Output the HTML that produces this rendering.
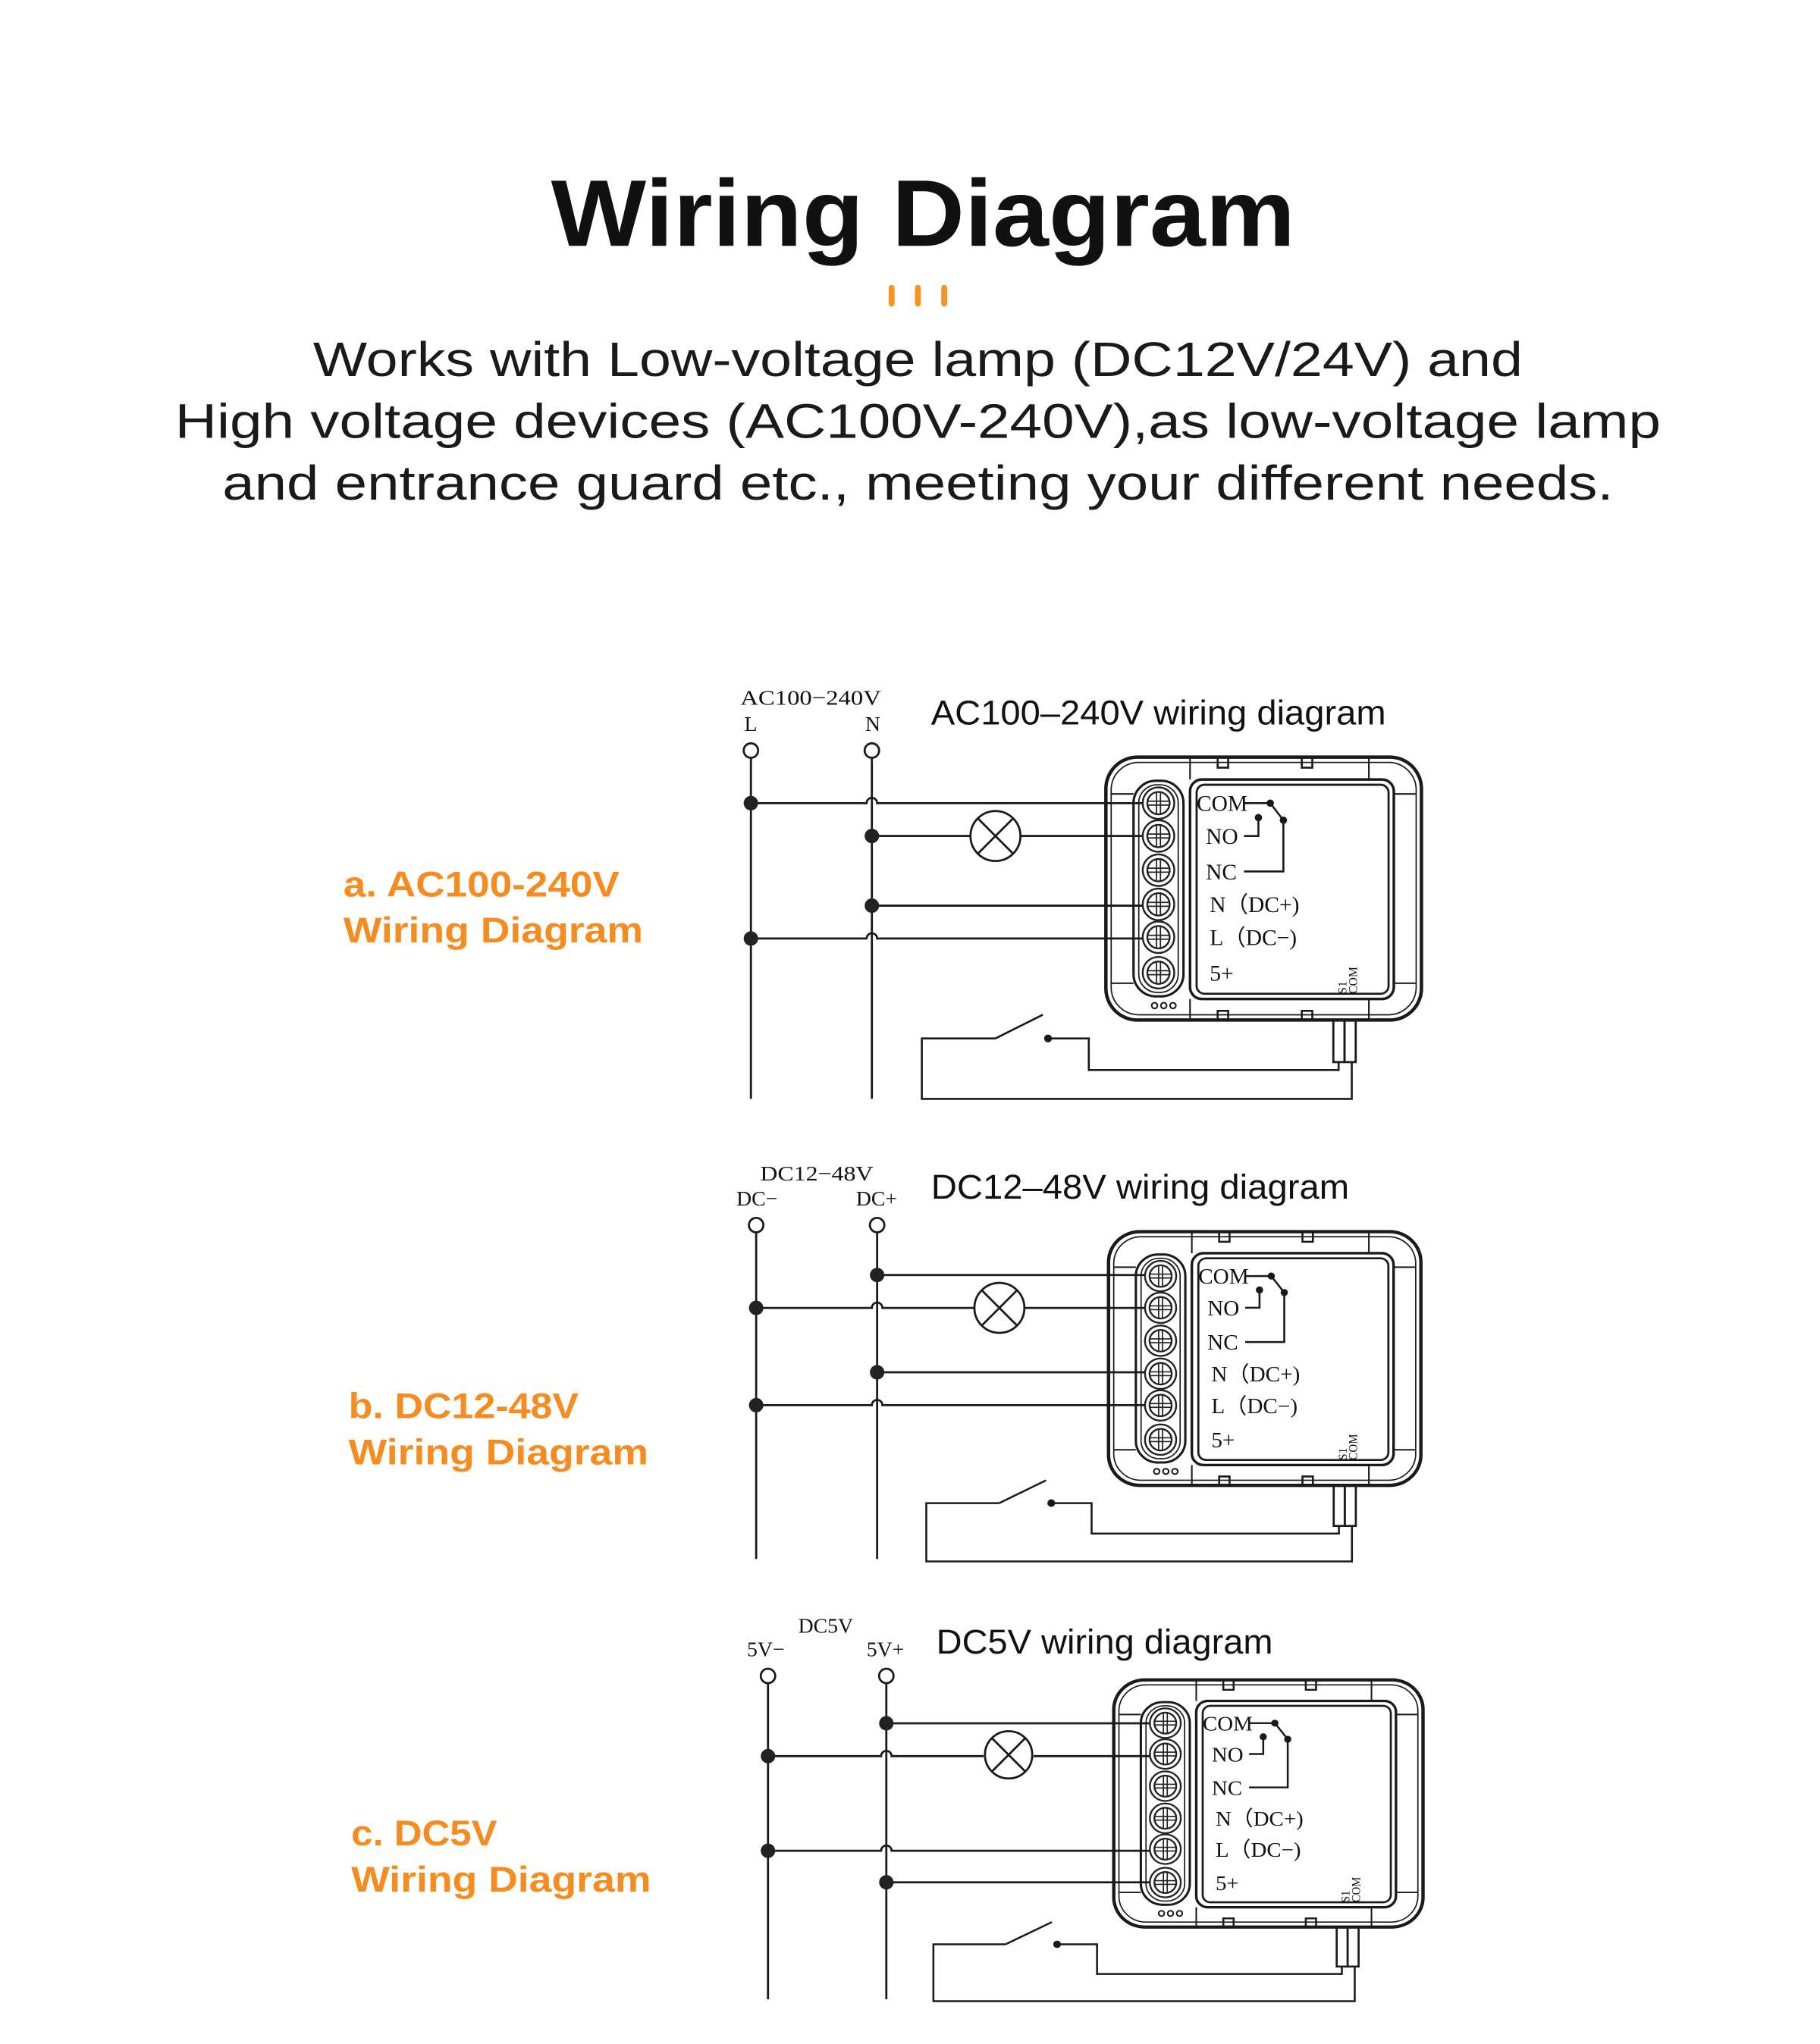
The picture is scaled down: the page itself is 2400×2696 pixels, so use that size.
<!DOCTYPE html>
<html><head><meta charset="utf-8"><style>
html,body{margin:0;padding:0;background:#fff;}
svg{display:block;}
</style></head><body>
<svg xmlns="http://www.w3.org/2000/svg" width="2400" height="2696" viewBox="0 0 1384 1555">
<defs>
<g id="screw">
<circle r="12" fill="#fff" stroke="#222" stroke-width="1.4"/>
<circle r="8.5" fill="none" stroke="#222" stroke-width="1.4"/>
<path d="M-8.5 -1.5H8.5M-8.5 1.5H8.5M-1.5 -8.5V8.5M1.5 -8.5V8.5" stroke="#222" stroke-width="1"/>
</g>
<g id="dev" fill="none" stroke="#1a1a1a" stroke-width="2">
<rect x="0" y="0" width="240" height="200" rx="24" stroke-width="2.6"/>
<rect x="4" y="4" width="232" height="192" rx="21" stroke-width="1"/>
<path d="M64 0V17M200 0V17M64 184V200M200 184V200M4 28H21M219 28H236M4 172H21M219 172H236" stroke-width="1.2"/>
<path d="M85 0V8H93V0M149 0V8H157V0M85 200V193H93V200M149 200V193H157V200" stroke-width="1.5"/>
<rect x="21" y="18" width="38" height="164" rx="17" stroke-width="1.8"/>
<rect x="25" y="21" width="30" height="158" rx="14" stroke-width="1"/>
<rect x="64" y="17" width="155" height="167" rx="9" stroke-width="2"/>
<rect x="69" y="21" width="146" height="159" rx="6" stroke-width="1.6"/>
<use href="#screw" x="40" y="35"/><use href="#screw" x="40" y="60"/><use href="#screw" x="40" y="86"/>
<use href="#screw" x="40" y="112"/><use href="#screw" x="40" y="137"/><use href="#screw" x="40" y="164"/>
<circle cx="37" cy="189" r="2.2" stroke-width="1.2"/><circle cx="44" cy="189" r="2.2" stroke-width="1.2"/><circle cx="51" cy="189" r="2.2" stroke-width="1.2"/>
<path d="M105 35H125L135 48M105 60H116V46M105 87H135V48" stroke-width="1.5"/>
<circle cx="125" cy="35" r="1.8" fill="#1a1a1a"/><circle cx="135" cy="48" r="1.8" fill="#1a1a1a"/><circle cx="116" cy="46" r="1.8" fill="#1a1a1a"/>
<rect x="173" y="200" width="8.5" height="32" stroke-width="1.6"/><rect x="181.5" y="200" width="8.5" height="32" stroke-width="1.6"/>
<path d="M177 232V238H-13V214H-44M-84 214L-48 196M-84 214H-140V260H187V232" stroke-width="1.5"/>
<circle cx="-44" cy="214" r="2" fill="#1a1a1a"/>
</g>
</defs>
<text x="702" y="187" text-anchor="middle" font-family="Liberation Sans, sans-serif" font-weight="bold" font-size="72" textLength="566" lengthAdjust="spacingAndGlyphs" fill="#111">Wiring Diagram</text>
<g stroke="#f7931e" stroke-width="4.5" stroke-linecap="round"><path d="M678 219V231M698 219V231M718 219V231"/></g>
<g font-family="Liberation Sans, sans-serif" font-size="37" fill="#1a1a1a" text-anchor="middle">
<text x="698" y="286" textLength="920" lengthAdjust="spacingAndGlyphs">Works with Low-voltage lamp (DC12V/24V) and</text>
<text x="698" y="333" textLength="1130" lengthAdjust="spacingAndGlyphs">High voltage devices (AC100V-240V),as low-voltage lamp</text>
<text x="698" y="380" textLength="1058" lengthAdjust="spacingAndGlyphs">and entrance guard etc., meeting your different needs.</text>
</g>
<g font-family="Liberation Sans, sans-serif" font-weight="bold" font-size="27" fill="#f68b1f">
<text x="261" y="682" textLength="210" lengthAdjust="spacingAndGlyphs">a. AC100-240V</text>
<text x="261" y="717" textLength="228" lengthAdjust="spacingAndGlyphs">Wiring Diagram</text>
<text x="265" y="1079" textLength="175" lengthAdjust="spacingAndGlyphs">b. DC12-48V</text>
<text x="265" y="1114" textLength="228" lengthAdjust="spacingAndGlyphs">Wiring Diagram</text>
<text x="267" y="1404" textLength="111" lengthAdjust="spacingAndGlyphs">c. DC5V</text>
<text x="267" y="1439" textLength="228" lengthAdjust="spacingAndGlyphs">Wiring Diagram</text>
</g>
<g font-family="Liberation Sans, sans-serif" font-size="26" fill="#111">
<text x="708" y="551" textLength="346" lengthAdjust="spacingAndGlyphs">AC100–240V wiring diagram</text>
<text x="708" y="912" textLength="318" lengthAdjust="spacingAndGlyphs">DC12–48V wiring diagram</text>
<text x="712" y="1258" textLength="256" lengthAdjust="spacingAndGlyphs">DC5V wiring diagram</text>
</g>
<g font-family="Liberation Serif, serif" font-size="16" fill="#111">
<text x="563" y="536" textLength="107" lengthAdjust="spacingAndGlyphs">AC100−240V</text>
<text x="566" y="556">L</text><text x="658" y="556">N</text>
<text x="578" y="898" textLength="86" lengthAdjust="spacingAndGlyphs">DC12−48V</text>
<text x="560" y="917">DC−</text><text x="651" y="917">DC+</text>
<text x="607" y="1242">DC5V</text>
<text x="568" y="1260">5V−</text><text x="659" y="1260">5V+</text>
</g>
<g fill="none" stroke="#1a1a1a" stroke-width="1.6">
<!-- A -->
<circle cx="571" cy="571" r="5.5" fill="#fff"/><circle cx="663" cy="571" r="5.5" fill="#fff"/>
<path d="M571 577V836M663 577V836"/>
<path d="M571 611H659a4 4 0 0 1 8 0H881"/>
<path d="M663 636H738M776 636H881"/>
<circle cx="757" cy="636" r="19"/><path d="M744 623L770 649M770 623L744 649"/>
<path d="M663 689H881"/>
<path d="M571 714H659a4 4 0 0 1 8 0H881"/>
<!-- B -->
<circle cx="575" cy="932" r="5.5" fill="#fff"/><circle cx="667" cy="932" r="5.5" fill="#fff"/>
<path d="M575 938V1186M667 938V1186"/>
<path d="M667 970H882"/>
<path d="M575 995H663a4 4 0 0 1 8 0H741M779 995H882"/>
<circle cx="760" cy="995" r="19"/><path d="M747 982L773 1008M773 982L747 1008"/>
<path d="M667 1044H882"/>
<path d="M575 1069H663a4 4 0 0 1 8 0H882"/>
<!-- C -->
<circle cx="584" cy="1275" r="5.5" fill="#fff"/><circle cx="674" cy="1275" r="5.5" fill="#fff"/>
<path d="M584 1281V1521M674 1281V1521"/>
<path d="M674 1311H886"/>
<path d="M584 1336H670a4 4 0 0 1 8 0H748M786 1336H886"/>
<circle cx="767" cy="1335" r="18"/><path d="M754 1322L780 1348M780 1322L754 1348"/>
<path d="M584 1408H670a4 4 0 0 1 8 0H886"/>
<path d="M674 1432H886"/>
</g>
<g fill="#222">
<circle cx="571" cy="611" r="5.5"/><circle cx="663" cy="636" r="5.5"/><circle cx="663" cy="689" r="5.5"/><circle cx="571" cy="714" r="5.5"/>
<circle cx="667" cy="970" r="5.5"/><circle cx="575" cy="995" r="5.5"/><circle cx="667" cy="1044" r="5.5"/><circle cx="575" cy="1069" r="5.5"/>
<circle cx="674" cy="1311" r="5.5"/><circle cx="584" cy="1336" r="5.5"/><circle cx="584" cy="1408" r="5.5"/><circle cx="674" cy="1432" r="5.5"/>
</g>
<!-- devices -->
<g transform="translate(841,576)">
<use href="#dev"/>
<g font-family="Liberation Serif, serif" font-size="17" fill="#111">
<text x="69" y="41">COM</text><text x="76" y="66">NO</text><text x="76" y="93">NC</text>
<text x="79" y="118">N（DC+)</text><text x="79" y="143">L（DC−)</text><text x="79" y="170">5+</text>
<text transform="translate(183,180) rotate(-90)" font-size="9">S1</text>
<text transform="translate(191,180) rotate(-90)" font-size="9">COM</text>
</g></g>
<g transform="translate(843,937) scale(0.99,0.965)">
<use href="#dev"/>
<g font-family="Liberation Serif, serif" font-size="17" fill="#111">
<text x="69" y="41">COM</text><text x="76" y="66">NO</text><text x="76" y="93">NC</text>
<text x="79" y="118">N（DC+)</text><text x="79" y="143">L（DC−)</text><text x="79" y="170">5+</text>
<text transform="translate(183,180) rotate(-90)" font-size="9">S1</text>
<text transform="translate(191,180) rotate(-90)" font-size="9">COM</text>
</g></g>
<g transform="translate(847,1278) scale(0.98,0.94)">
<use href="#dev"/>
<g font-family="Liberation Serif, serif" font-size="17" fill="#111">
<text x="69" y="41">COM</text><text x="76" y="66">NO</text><text x="76" y="93">NC</text>
<text x="79" y="118">N（DC+)</text><text x="79" y="143">L（DC−)</text><text x="79" y="170">5+</text>
<text transform="translate(183,180) rotate(-90)" font-size="9">S1</text>
<text transform="translate(191,180) rotate(-90)" font-size="9">COM</text>
</g></g>
</svg>
</body></html>
